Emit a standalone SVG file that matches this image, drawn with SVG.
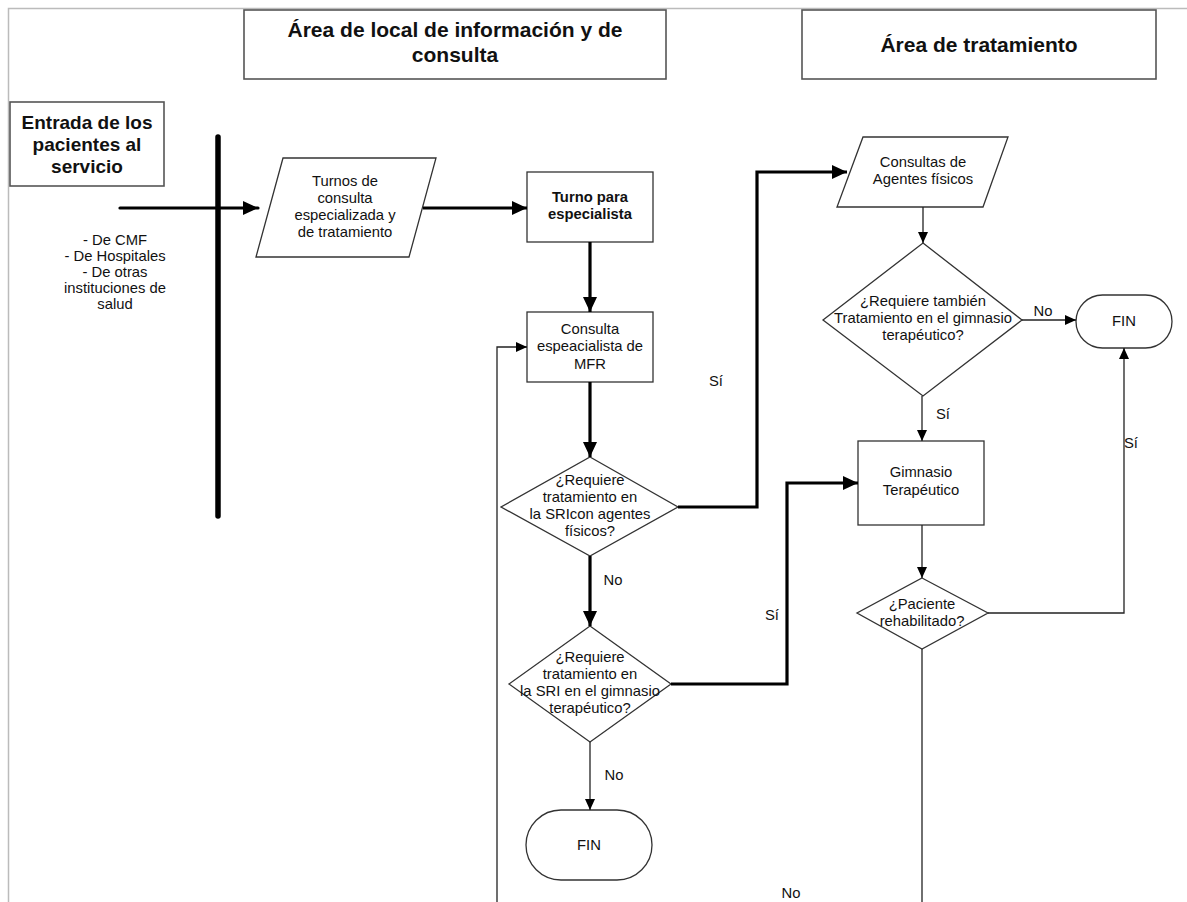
<svg xmlns="http://www.w3.org/2000/svg" width="1187" height="902" viewBox="0 0 1187 902">
<defs>
<style>
.sh{fill:#fff;stroke:#333;stroke-width:1.3}
.hd{fill:#fff;stroke:#555;stroke-width:1.6}
.t{font-family:"Liberation Sans",Arial,sans-serif;font-size:14.8px;fill:#111;text-anchor:middle}
.b{font-family:"Liberation Sans",Arial,sans-serif;font-weight:bold;fill:#111;text-anchor:middle}
.thick{fill:none;stroke:#000;stroke-width:3.2}
.thin{fill:none;stroke:#222;stroke-width:1.3}
</style>
<marker id="ah" markerUnits="userSpaceOnUse" markerWidth="16" markerHeight="14" refX="15" refY="7" orient="auto"><path d="M0,0 L15,7 L0,14 Z" fill="#000"/></marker>
<marker id="as" markerUnits="userSpaceOnUse" markerWidth="12" markerHeight="10" refX="11" refY="5" orient="auto"><path d="M0,0 L11,5 L0,10 Z" fill="#000"/></marker>
</defs>
<rect width="1187" height="902" fill="#fff"/>
<path d="M8.5,902 V8.5 H1187" fill="none" stroke="#bbb" stroke-width="1.5"/>

<g id="hdr1"><rect class="hd" x="244" y="10" width="422" height="69"/>
<text class="b" font-size="21" x="455" y="37">Área de local de información y de</text>
<text class="b" font-size="21" x="455" y="62">consulta</text></g>
<g id="hdr2"><rect class="hd" x="802" y="10" width="354" height="69"/>
<text class="b" font-size="21" x="979" y="52">Área de tratamiento</text></g>

<g id="entrada"><rect class="hd" x="10" y="102" width="154" height="84"/>
<text class="b" font-size="19" x="87" y="129">Entrada de los</text>
<text class="b" font-size="19" x="87" y="151">pacientes al</text>
<text class="b" font-size="19" x="87" y="173">servicio</text></g>

<g id="origenes">
<text class="t" x="115" y="245">- De CMF</text>
<text class="t" x="115" y="261">- De Hospitales</text>
<text class="t" x="115" y="277">- De otras</text>
<text class="t" x="115" y="293">instituciones de</text>
<text class="t" x="115" y="309">salud</text></g>

<g id="turnos"><polygon class="sh" points="283,158 436,158 409,257 256,257"/>
<text class="t" x="345" y="186">Turnos de</text>
<text class="t" x="345" y="203">consulta</text>
<text class="t" x="345" y="220">especializada y</text>
<text class="t" x="345" y="237">de tratamiento</text></g>

<g id="turnoesp"><rect class="sh" x="527" y="172" width="126" height="70"/>
<text class="b" font-size="14.8" x="590" y="202">Turno para</text>
<text class="b" font-size="14.8" x="590" y="219">especialista</text></g>

<g id="consulta"><rect class="sh" x="527" y="312" width="126" height="70"/>
<text class="t" x="590" y="334">Consulta</text>
<text class="t" x="590" y="351">espeacialista de</text>
<text class="t" x="590" y="369">MFR</text></g>

<g id="dec1"><polygon class="sh" points="590,457 678,507 590,556 501,507"/>
<text class="t" x="590" y="485">¿Requiere</text>
<text class="t" x="590" y="502">tratamiento en</text>
<text class="t" x="590" y="519">la SRIcon agentes</text>
<text class="t" x="590" y="536">físicos?</text></g>

<g id="dec4"><polygon class="sh" points="590,626 671,684 590,742 509,684"/>
<text class="t" x="590" y="662">¿Requiere</text>
<text class="t" x="590" y="679">tratamiento en</text>
<text class="t" x="590" y="696">la SRI en el gimnasio</text>
<text class="t" x="590" y="713">terapéutico?</text></g>

<g id="fin1"><rect class="sh" x="526" y="810" width="126" height="70" rx="35" ry="35"/>
<text class="t" x="589" y="850">FIN</text></g>

<g id="agentes"><polygon class="sh" points="863,137 1008,137 983,207 837,207"/>
<text class="t" x="923" y="167">Consultas de</text>
<text class="t" x="923" y="184">Agentes físicos</text></g>

<g id="dec2"><polygon class="sh" points="923,243 1022,320 923,396 823,320"/>
<text class="t" x="923" y="306">¿Requiere también</text>
<text class="t" x="923" y="323">Tratamiento en el gimnasio</text>
<text class="t" x="923" y="340">terapéutico?</text></g>

<g id="fin2"><rect class="sh" x="1076" y="295" width="96" height="53" rx="26.5" ry="26.5"/>
<text class="t" x="1124" y="326">FIN</text></g>

<g id="gimnasio"><rect class="sh" x="858" y="441" width="126" height="84"/>
<text class="t" x="921" y="477">Gimnasio</text>
<text class="t" x="921" y="495">Terapéutico</text></g>

<g id="dec3"><polygon class="sh" points="922,578 988,613 922,649 857,613"/>
<text class="t" x="922" y="609">¿Paciente</text>
<text class="t" x="922" y="626">rehabilitado?</text></g>

<g id="connectors">
<line x1="218" y1="137" x2="218" y2="516" stroke="#000" stroke-width="5.5" stroke-linecap="round"/>
<path class="thick" d="M120,208 H258" marker-end="url(#ah)" stroke-width="4.5" stroke-linecap="round"/>
<path class="thick" d="M423,208 H527" marker-end="url(#ah)"/>
<path class="thick" d="M590,242 V312" marker-end="url(#ah)"/>
<path class="thick" d="M590,382 V457" marker-end="url(#ah)"/>
<path class="thick" d="M678,507 H757 V172 H847" marker-end="url(#ah)"/>
<path class="thick" d="M590,556 V626" marker-end="url(#ah)"/>
<path class="thick" d="M671,684 H787 V483 H858" marker-end="url(#ah)"/>
<path class="thin" d="M590,742 V810" marker-end="url(#as)"/>
<path class="thin" d="M497,902 V347 H527" marker-end="url(#as)"/>
<path class="thin" d="M923,207 V243" marker-end="url(#as)"/>
<path class="thin" d="M1022,320 H1076" marker-end="url(#as)"/>
<path class="thin" d="M922,396 V441" marker-end="url(#as)"/>
<path class="thin" d="M922,525 V578" marker-end="url(#as)"/>
<path class="thin" d="M988,613 H1124 V348" marker-end="url(#as)"/>
<path class="thin" d="M922,649 V902"/>
</g>

<g id="labels">
<text class="t" x="716" y="386">Sí</text>
<text class="t" x="613" y="585">No</text>
<text class="t" x="772" y="620">Sí</text>
<text class="t" x="614" y="780">No</text>
<text class="t" x="791" y="898">No</text>
<text class="t" x="1043" y="316">No</text>
<text class="t" x="943" y="419">Sí</text>
<text class="t" x="1131" y="448">Sí</text>
</g>
</svg>
